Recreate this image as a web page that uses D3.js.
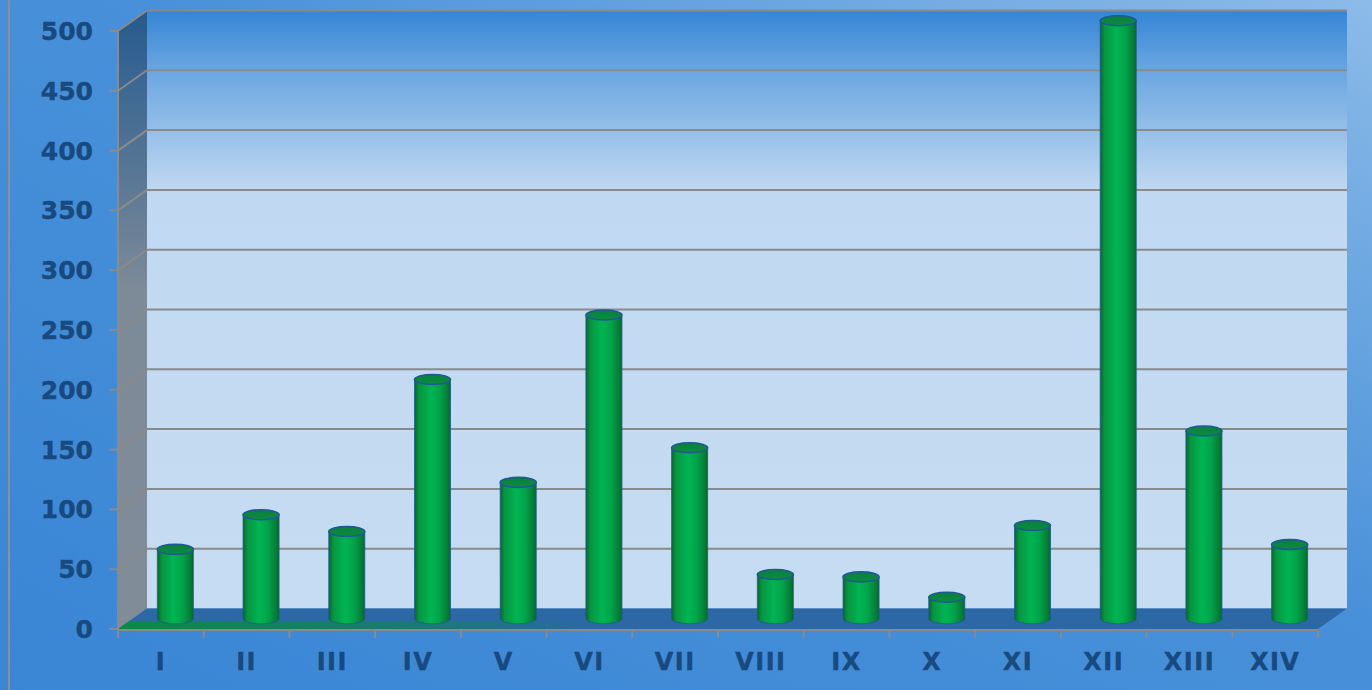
<!DOCTYPE html>
<html>
<head>
<meta charset="utf-8">
<script src="https://cdn.jsdelivr.net/npm/d3@7"></script>
<style>
  html, body { margin: 0; padding: 0; background: #4a90d9; }
  svg { display: block; }
</style>
</head>
<body>
<div id="chart"></div>
<script>
// data
var categories = ['I','II','III','IV','V','VI','VII','VIII','IX','X','XI','XII','XIII','XIV']
var values = [58, 87, 73, 200, 114, 254, 143, 37, 35, 18, 78, 500, 157, 62]
var yTicks = [0, 50, 100, 150, 200, 250, 300, 350, 400, 450, 500]

var w = 1372
var h = 690
// front plane of the 3d box and the depth shift
var plotLeft = 118, plotRight = 1318, plotBottom = 629, plotTop = 31
var dx = 29, dy = -20.5

var x = d3.scaleBand().domain(categories).range([plotLeft, plotRight])
var y = d3.scaleLinear().domain([0, 500]).range([plotBottom, plotTop])

var svg = d3.select('#chart').append('svg')
  .attr('width', w)
  .attr('height', h)

var defs = svg.append('defs')

function linGrad(id, x1, y1, x2, y2, stops){
  var g = defs.append('linearGradient').attr('id', id)
    .attr('x1', x1).attr('y1', y1).attr('x2', x2).attr('y2', y2)
  stops.forEach(function(s){
    g.append('stop').attr('offset', s[0]).attr('stop-color', s[1])
      .attr('stop-opacity', s[2] == null ? 1 : s[2])
  })
}

linGrad('bg', 0, 1, 1, 0, [[0, '#3a86d5'], [0.55, '#4890d9'], [1, '#8cbbe8']])
linGrad('backwall', 0, 0, 0, 1, [[0, '#3585d6'], [0.1, '#6aa6e0'], [0.3, '#c0d8f1'], [1, '#c6dcf2']])
linGrad('sidewall', 0, 0, 0, 1, [[0, '#255a8e'], [0.12, '#3d6893'], [0.45, '#7d8a98'], [1, '#818c98']])
linGrad('floorgreen', 0, 0, 1, 0, [[0, '#0a8a45', 1], [0.25, '#0a8a45', 0.5], [0.4, '#0a8a45', 0]])
linGrad('cyl', 0, 0, 1, 0, [[0, '#06672e'], [0.12, '#089440'], [0.45, '#00b553'], [0.7, '#02a249'], [0.92, '#067c37'], [1, '#06672e']])
linGrad('cap', 0, 0, 0, 1, [[0, '#0a7f3c'], [1, '#0b8c42']])

// background
svg.append('rect').attr('width', w).attr('height', h).attr('fill', 'url(#bg)')
svg.append('line').attr('x1', 9).attr('x2', 9).attr('y1', 0).attr('y2', h)
  .attr('stroke', '#8f8f8f').attr('stroke-width', 2)

var y0 = y(0), y1 = y(500)

// back wall
svg.append('rect')
  .attr('x', plotLeft + dx).attr('y', y1 + dy)
  .attr('width', plotRight - plotLeft).attr('height', y0 - y1)
  .attr('fill', 'url(#backwall)')

// side wall
svg.append('polygon')
  .attr('points', [[plotLeft, y1], [plotLeft + dx, y1 + dy], [plotLeft + dx, y0 + dy], [plotLeft, y0]].join(' '))
  .attr('fill', 'url(#sidewall)')

// floor
svg.append('polygon')
  .attr('points', [[plotLeft, y0], [plotLeft + dx, y0 + dy], [plotRight + dx, y0 + dy], [plotRight, y0]].join(' '))
  .attr('fill', '#2c68a6')
svg.append('polygon')
  .attr('points', [[plotLeft, y0], [plotLeft + 10, y0 - 7], [plotRight + 10, y0 - 7], [plotRight, y0]].join(' '))
  .attr('fill', 'url(#floorgreen)')

// gridlines on back wall and side wall
var grid = svg.append('g').attr('stroke', '#8a8a8a').attr('stroke-width', 2).attr('fill', 'none')
grid.selectAll('.gl').data(yTicks.slice(1)).enter().append('line')
  .attr('x1', plotLeft + dx).attr('x2', plotRight + dx)
  .attr('y1', function(d){ return y(d) + dy })
  .attr('y2', function(d){ return y(d) + dy })
grid.selectAll('.gs').data(yTicks.slice(1)).enter().append('line')
  .attr('x1', plotLeft).attr('x2', plotLeft + dx)
  .attr('y1', function(d){ return y(d) })
  .attr('y2', function(d){ return y(d) + dy })

// axes lines and ticks
var ax = svg.append('g').attr('stroke', '#8a8a8a').attr('stroke-width', 2)
ax.append('line').attr('x1', plotLeft).attr('x2', plotLeft).attr('y1', y1).attr('y2', y0 + 1)
ax.append('line').attr('x1', plotLeft).attr('x2', plotRight).attr('y1', y0 + 1).attr('y2', y0 + 1)
ax.selectAll('.yt').data(yTicks).enter().append('line')
  .attr('x1', plotLeft - 9).attr('x2', plotLeft)
  .attr('y1', function(d){ return y(d) }).attr('y2', function(d){ return y(d) })
var bounds = categories.map(function(c){ return x(c) }).concat([plotRight])
ax.selectAll('.xt').data(bounds).enter().append('line')
  .attr('x1', function(d){ return d }).attr('x2', function(d){ return d })
  .attr('y1', y0 + 1).attr('y2', y0 + 9)

// cylinders, placed half way into the depth
var bw = 36, ry = 5
var bars = svg.append('g').selectAll('g.bar')
  .data(values).enter().append('g').attr('class', 'bar')
  .attr('transform', function(d, i){
    return 'translate(' + (x(categories[i]) + x.bandwidth() / 2 + dx / 2) + ',' + (dy / 2) + ')'
  })
bars.append('path')
  .attr('d', function(d){
    var t = y(d), b = y(0), r = bw / 2
    return 'M' + (-r) + ',' + t + 'L' + (-r) + ',' + b +
      'A' + r + ',' + ry + ' 0 0 0 ' + r + ',' + b +
      'L' + r + ',' + t + 'Z'
  })
  .attr('fill', 'url(#cyl)')
  .attr('stroke', '#1d5b8c').attr('stroke-width', 0.8)
bars.append('ellipse')
  .attr('cx', 0).attr('cy', function(d){ return y(d) })
  .attr('rx', bw / 2).attr('ry', ry)
  .attr('fill', 'url(#cap)')
  .attr('stroke', '#1f5a93').attr('stroke-width', 1.6)

// labels
var font = '"DejaVu Sans", Verdana, sans-serif'
svg.append('g').selectAll('text').data(yTicks).enter().append('text')
  .attr('x', 93).attr('y', function(d){ return y(d) })
  .attr('dy', '0.36em')
  .attr('text-anchor', 'end')
  .attr('font-family', font).attr('font-weight', 'bold').attr('font-size', 25)
  .attr('fill', '#184a80').attr('stroke', '#184a80').attr('stroke-width', 0.4)
  .text(function(d){ return d })
svg.append('g').selectAll('text').data(categories).enter().append('text')
  .attr('x', function(d){ return x(d) + x.bandwidth() / 2 })
  .attr('y', 670)
  .attr('text-anchor', 'middle')
  .attr('font-family', font).attr('font-weight', 'bold').attr('font-size', 24)
  .attr('letter-spacing', 1.5)
  .attr('fill', '#184a80').attr('stroke', '#184a80').attr('stroke-width', 0.4)
  .text(function(d){ return d })
</script>
</body>
</html>
